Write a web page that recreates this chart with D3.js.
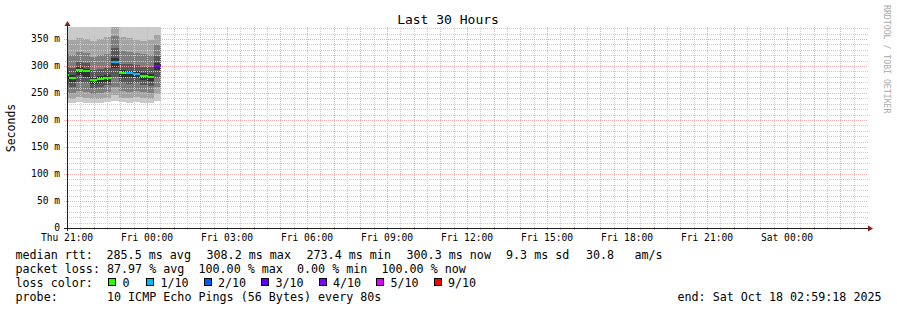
<!DOCTYPE html>
<html><head><meta charset="utf-8">
<script src="https://cdn.jsdelivr.net/npm/d3@7"></script>
<style>
body{margin:0;background:#fff;}
svg{display:block;}
text{font-family:"DejaVu Sans Mono",monospace;fill:#000;white-space:pre;}
</style>
</head><body>
<svg id="c" width="897" height="310"></svg>
<script>
// ---------------- data ----------------
const stepTimes = [
  "2025-10-16T20:48:00Z","2025-10-16T21:04:00Z","2025-10-16T21:20:00Z","2025-10-16T21:36:00Z",
  "2025-10-16T21:52:00Z","2025-10-16T22:08:00Z","2025-10-16T22:24:00Z","2025-10-16T22:40:00Z",
  "2025-10-16T22:56:00Z","2025-10-16T23:12:00Z","2025-10-16T23:28:00Z","2025-10-16T23:44:00Z",
  "2025-10-17T00:00:00Z","2025-10-17T00:16:00Z","2025-10-17T00:32:00Z"
];
const medianRtt = [282.8, 278.3, 293.1, 290.2, 273.4, 275.9, 277.8, 308.2, 286.5, 286.5, 284.6, 281.5, 280.2, 300.3];
const lossCount = [0, 0, 0, 0, 0, 0, 0, 1, 0, 1, 1, 0, 0, 4];
// sorted ping rtts (ms) of each step, 10 pings
const pings = [
  [232, 240, 252, 266, 276, 288, 300, 322, 350, 390],
  [231, 239, 250, 262, 271, 284, 296, 320, 348, 385],
  [233, 242, 254, 270, 283, 298, 308, 326, 352, 392],
  [232, 240, 252, 268, 280, 295, 306, 324, 350, 388],
  [232, 238, 248, 260, 267, 279, 292, 316, 346, 380],
  [231, 239, 250, 262, 269, 281, 294, 320, 350, 386],
  [233, 240, 251, 264, 271, 283, 296, 322, 354, 392],
  [235, 246, 262, 280, 296, 314, 334, 356, 374, 400],
  [233, 241, 253, 268, 278, 292, 304, 328, 354, 390],
  [232, 240, 252, 267, 279, 291, 303, 326, 352, 386],
  [233, 242, 254, 268, 277, 290, 302, 324, 348, 384],
  [231, 240, 251, 264, 274, 287, 299, 322, 346, 382],
  [232, 239, 250, 263, 273, 285, 298, 320, 348, 386],
  [236, 248, 262, 278, 292, 306, 318, 338, 358, 395]
];
const lossLabels = ["0", "1/10", "2/10", "3/10", "4/10", "5/10", "9/10"];
const lossLevels = [0, 1, 2, 3, 4, 5, 9];
const lossColors = ["#26ff00", "#00b8ff", "#0059ff", "#5e00ff", "#7e00ff", "#dd00ff", "#ff0000"];
const smokeColors = ["#cacaca", "#a4a4a4", "#7e7e7e", "#585858", "#323232"];
const yTickValues = [0, 50, 100, 150, 200, 250, 300, 350];
const timeStart = "2025-10-16T21:00:00Z";
const timeEnd = "2025-10-18T03:00:00Z";
const titleText = "Last 30 Hours";
const yAxisTitle = "Seconds";
const watermark = "RRDTOOL / TOBI OETIKER";
const legendRtt = ["median rtt:", "285.5 ms avg", "308.2 ms max", "273.4 ms min", "300.3 ms now", "9.3 ms sd", "30.8", "am/s"];
const legendLoss = "packet loss: 87.97 % avg  100.00 % max  0.00 % min  100.00 % now";
const legendColorTitle = "loss color:";
const legendProbe = "probe:       10 ICMP Echo Pings (56 Bytes) every 80s";
const legendEnd = "end: Sat Oct 18 02:59:18 2025";

// ---------------- layout ----------------
const svg = d3.select("#c");
const X0 = 67, X1 = 867, Y0 = 228, Y1 = 27;
const x = d3.scaleUtc().domain([new Date(timeStart), new Date(timeEnd)]).range([X0, X1]);
const y = d3.scaleLinear().domain([0, 372.2]).range([Y0, Y1]);
const px = v => Math.round(x(v));
const py = v => Math.round(y(v));

svg.append("defs").append("clipPath").attr("id", "plot")
  .append("rect").attr("x", X0 + 1).attr("y", Y1).attr("width", X1 - X0 - 1).attr("height", Y0 - Y1);

// smoke
const steps = medianRtt.map((m, i) => ({
  t0: new Date(stepTimes[i]), t1: new Date(stepTimes[i + 1]),
  med: m, loss: lossCount[i], p: pings[i]
}));
const gData = svg.append("g").attr("clip-path", "url(#plot)");
for (let b = 0; b < 5; b++) {
  gData.selectAll(null).data(steps).enter().append("rect")
    .attr("x", d => px(d.t0)).attr("width", d => px(d.t1) - px(d.t0))
    .attr("y", d => py(d.p[9 - b])).attr("height", d => py(d.p[b]) - py(d.p[9 - b]))
    .attr("fill", smokeColors[b]);
}

// grid
const gGrid = svg.append("g").attr("fill", "none").attr("stroke-width", 1).attr("stroke-dasharray", "1,1");
const minorT = d3.utcMinute.every(30).range(new Date(timeStart), new Date(+new Date(timeEnd) + 1));
const majorT = d3.utcHour.every(1).range(new Date(timeStart), new Date(+new Date(timeEnd) + 1));
const minorCol = "#cdcdcd", majorCol = "#f0acac";
minorT.filter(t => t.getUTCMinutes() !== 0 && px(t) > X0).forEach(t => {
  gGrid.append("line").attr("x1", px(t) + 0.5).attr("x2", px(t) + 0.5).attr("y1", Y1).attr("y2", Y0 + 2)
    .attr("stroke", minorCol);
});
majorT.filter(t => px(t) > X0 && px(t) < X1).forEach(t => {
  gGrid.append("line").attr("x1", px(t) + 0.5).attr("x2", px(t) + 0.5).attr("y1", Y1).attr("y2", Y0 + 3)
    .attr("stroke", majorCol);
});
d3.range(10, 371, 10).forEach(v => {
  const major = v % 50 === 0;
  gGrid.append("line").attr("x1", X0 - (major ? 3 : 2)).attr("x2", X1 + 1)
    .attr("y1", py(v) + 0.5).attr("y2", py(v) + 0.5)
    .attr("stroke", major ? majorCol : minorCol);
});

// median lines
svg.append("g").attr("clip-path", "url(#plot)").selectAll("rect").data(steps).enter().append("rect")
  .attr("x", d => px(d.t0)).attr("width", d => px(d.t1) - px(d.t0))
  .attr("y", d => Math.round(y(d.med)) - 1).attr("height", 2)
  .attr("fill", d => lossColors[lossLevels.indexOf(d.loss)]);

// axes
svg.append("line").attr("x1", X0 - 3).attr("x2", X1 + 1).attr("y1", Y0 + 0.5).attr("y2", Y0 + 0.5)
  .attr("stroke", "#1f1f1f");
svg.append("line").attr("x1", X0 + 0.5).attr("x2", X0 + 0.5).attr("y1", Y0 + 3).attr("y2", Y1 - 1)
  .attr("stroke", "#1f1f1f");
svg.append("path").attr("d", `M${X0 + 0.5},${Y1 - 6} L${X0 - 2.5},${Y1 - 1} L${X0 + 3.5},${Y1 - 1} Z`).attr("fill", "#801f1f");
svg.append("path").attr("d", `M${X1 + 6},${Y0 + 0.5} L${X1 + 1},${Y0 - 2.5} L${X1 + 1},${Y0 + 3.5} Z`).attr("fill", "#801f1f");

// y tick labels
svg.append("g").selectAll("text").data(yTickValues).enter().append("text")
  .attr("x", 60).attr("y", v => y(v) + (v === 0 ? 3 : 3.5)).attr("text-anchor", "end")
  .style("font-size", "9.6px").text(v => v === 0 ? "0" : v + " m");

// x tick labels
const fmt = d3.utcFormat("%a %H:%M");
const labT = d3.utcHour.every(3).range(new Date(timeStart), new Date(timeEnd));
svg.append("g").selectAll("text").data(labT).enter().append("text")
  .attr("x", t => x(t)).attr("y", 240.5).attr("text-anchor", "middle")
  .style("font-size", "9.6px").text(t => fmt(t));

// titles
svg.append("text").attr("x", 448).attr("y", 24).attr("text-anchor", "middle")
  .style("font-size", "13px").text(titleText);
svg.append("text").attr("transform", "translate(15,128) rotate(-90)").attr("text-anchor", "middle")
  .style("font-size", "11.5px").text(yAxisTitle);
svg.append("text").attr("transform", "translate(883.5,5) rotate(90)").attr("text-anchor", "start")
  .style("font-size", "8.2px").style("fill", "#aaaaaa").text(watermark);

// legend
const fs = "11.7px";
const rttX = [15.5, 106.5, 206.5, 306.5, 406.5, 506, 586, 634.5];
legendRtt.forEach((s, i) => svg.append("text").attr("x", rttX[i]).attr("y", 258.5).style("font-size", fs).text(s));
svg.append("text").attr("x", 15.5).attr("y", 272.8).style("font-size", fs).text(legendLoss);
svg.append("text").attr("x", 15.5).attr("y", 287).style("font-size", fs).text(legendColorTitle);
lossLabels.forEach((s, i) => {
  const bx = i === 0 ? 108 : 146 + (i - 1) * 57.5;
  svg.append("rect").attr("x", Math.round(bx) + 0.5).attr("y", 278.5).attr("width", 7).attr("height", 7)
    .attr("fill", lossColors[i]).attr("stroke", "#000").attr("stroke-width", 1);
  svg.append("text").attr("x", bx + 14.5).attr("y", 287).style("font-size", fs).text(s);
});
svg.append("text").attr("x", 15.5).attr("y", 301.2).style("font-size", fs).text(legendProbe);
svg.append("text").attr("x", 677.5).attr("y", 301.2).style("font-size", fs).text(legendEnd);
</script>
</body></html>
